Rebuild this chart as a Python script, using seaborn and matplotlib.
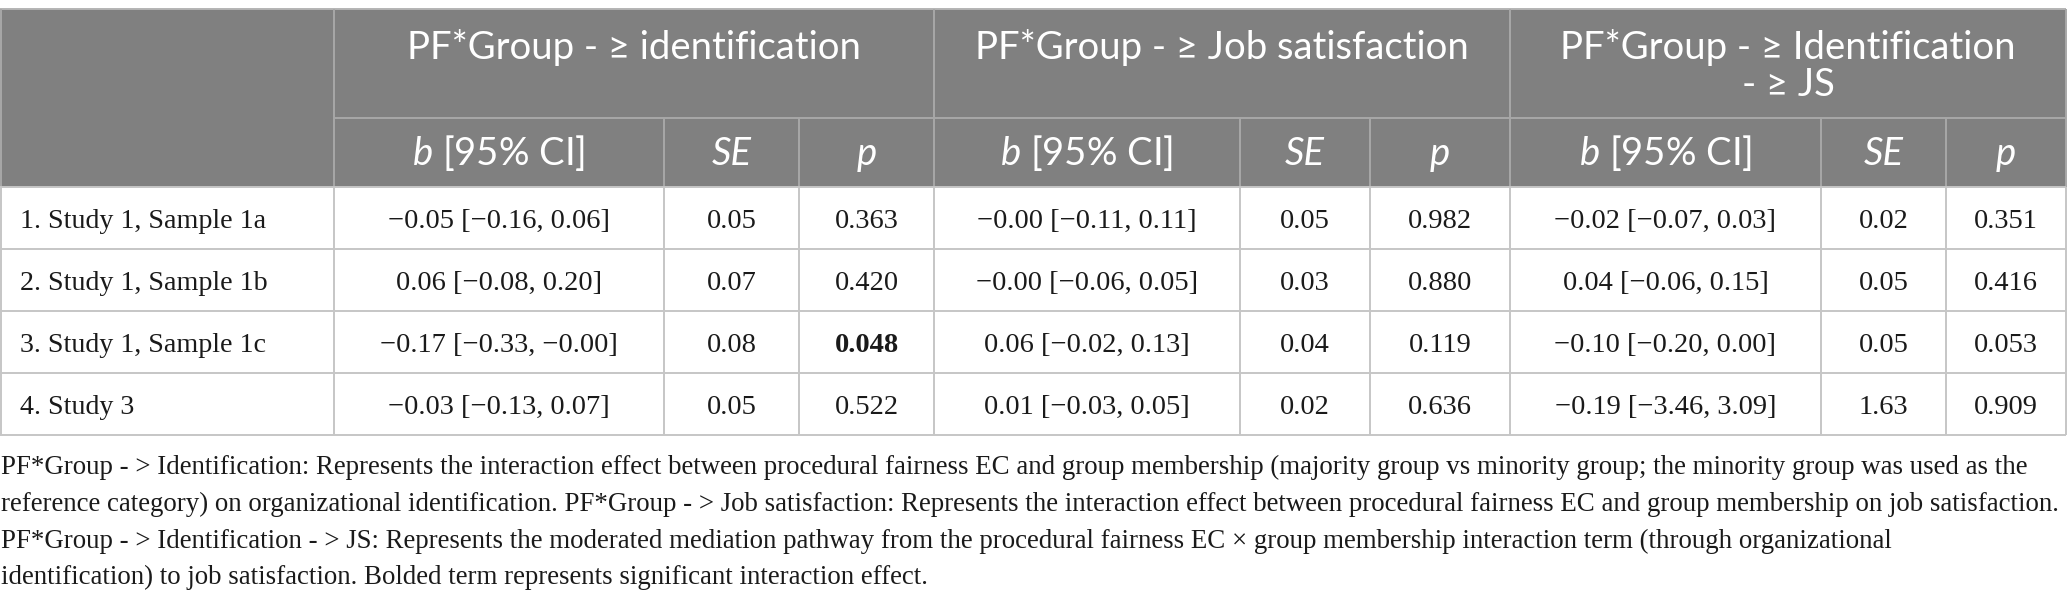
import matplotlib
matplotlib.use("Agg")
import matplotlib.pyplot as plt
from matplotlib.patches import Rectangle
import seaborn as sns

# Table data
row_labels = ["1. Study 1, Sample 1a", "2. Study 1, Sample 1b",
              "3. Study 1, Sample 1c", "4. Study 3"]

# PF*Group -> identification
ident_b = [-0.05, 0.06, -0.17, -0.03]
ident_lo = [-0.16, -0.08, -0.33, -0.13]
ident_hi = [0.06, 0.20, -0.0, 0.07]
ident_se = [0.05, 0.07, 0.08, 0.05]
ident_p = [0.363, 0.420, 0.048, 0.522]

# PF*Group -> Job satisfaction
js_b = [-0.0, -0.0, 0.06, 0.01]
js_lo = [-0.11, -0.06, -0.02, -0.03]
js_hi = [0.11, 0.05, 0.13, 0.05]
js_se = [0.05, 0.03, 0.04, 0.02]
js_p = [0.982, 0.880, 0.119, 0.636]

# PF*Group -> Identification -> JS
med_b = [-0.02, 0.04, -0.10, -0.19]
med_lo = [-0.07, -0.06, -0.20, -3.46]
med_hi = [0.03, 0.15, 0.00, 3.09]
med_se = [0.02, 0.05, 0.05, 1.63]
med_p = [0.351, 0.416, 0.053, 0.909]

group_titles = ["PF*Group - \u2265 identification",
                "PF*Group - \u2265 Job satisfaction",
                "PF*Group - \u2265 Identification\n- \u2265 JS"]

footnote = [
    "PF*Group - > Identification: Represents the interaction effect between procedural fairness EC and group membership (majority group vs minority group; the minority group was used as the",
    "reference category) on organizational identification. PF*Group - > Job satisfaction: Represents the interaction effect between procedural fairness EC and group membership on job satisfaction.",
    "PF*Group - > Identification - > JS: Represents the moderated mediation pathway from the procedural fairness EC \u00d7 group membership interaction term (through organizational",
    "identification) to job satisfaction. Bolded term represents significant interaction effect.",
]

# layout (pixels)
W, H = 2067, 604
col_x = [0, 334, 664, 799, 934, 1240, 1370, 1510, 1821, 1946, 2066]
top, head_mid, head_bot = 9, 118, 187
row_h = 62
header_fill = "#808080"
head_line = "#a8a8a8"
body_line = "#c6c6c6"
txt = "#1a1a1a"

sns.set_theme(style="white")
plt.rcParams["mathtext.fontset"] = "custom"
plt.rcParams["mathtext.it"] = "Lato:italic"
plt.rcParams["mathtext.rm"] = "Lato"
sans = ["Lato", "DejaVu Sans"]
serif = ["Liberation Serif", "DejaVu Serif"]
head_fs = 27.5
num_fs = 20.5
lab_fs = 20.2
foot_fs = 19.4


def fmt(v, d=2):
    return f"{v:.{d}f}".replace("-", "\u2212")


fig = plt.figure(figsize=(W / 100, H / 100), dpi=100)
ax = fig.add_axes([0, 0, 1, 1])
ax.set_xlim(0, W)
ax.set_ylim(H, 0)
ax.axis("off")

n = len(row_labels)
bottom = head_bot + n * row_h

# header background
ax.add_patch(Rectangle((col_x[0], top), col_x[-1] - col_x[0], head_bot - top,
                       facecolor=header_fill, edgecolor="none"))

lw = 1.4
# header lines
ax.hlines(top, col_x[0], col_x[-1], color="#b4b4b4", lw=lw)
ax.hlines(head_mid, col_x[1], col_x[-1], color=head_line, lw=lw)
ax.vlines([col_x[1], col_x[4], col_x[7]], top, head_bot, color=head_line, lw=lw)
ax.vlines([col_x[2], col_x[3], col_x[5], col_x[6], col_x[8], col_x[9]],
          head_mid, head_bot, color=head_line, lw=lw)
ax.vlines([col_x[0] + 0.7, col_x[-1]], top, head_bot, color=head_line, lw=lw)

# body lines
for i in range(n + 1):
    ax.hlines(head_bot + i * row_h, col_x[0], col_x[-1], color=body_line, lw=lw)
ax.vlines(col_x[1:-1], head_bot, bottom, color=body_line, lw=lw)
ax.vlines([col_x[0] + 0.7, col_x[-1]], head_bot, bottom, color=body_line, lw=lw)

# group titles
starts = [1, 4, 7]
for g, title in enumerate(group_titles):
    cx = (col_x[starts[g]] + col_x[starts[g] + 3]) / 2
    for k, line in enumerate(title.split("\n")):
        ax.text(cx, 59 + k * 37, line, ha="center", va="baseline",
                family=sans, fontsize=head_fs, color="white")

# sub headers
sub_y = 165
for g in range(3):
    c = starts[g]
    ax.text((col_x[c] + col_x[c + 1]) / 2, sub_y, r"$b$ [95% CI]", ha="center",
            va="baseline", family=sans, fontsize=head_fs, color="white")
    ax.text((col_x[c + 1] + col_x[c + 2]) / 2, sub_y, "SE", ha="center",
            va="baseline", family=sans, fontsize=head_fs, color="white", style="italic")
    ax.text((col_x[c + 2] + col_x[c + 3]) / 2, sub_y, "p", ha="center",
            va="baseline", family=sans, fontsize=head_fs, color="white", style="italic")

# body cells
groups = [(ident_b, ident_lo, ident_hi, ident_se, ident_p),
          (js_b, js_lo, js_hi, js_se, js_p),
          (med_b, med_lo, med_hi, med_se, med_p)]
for i, lab in enumerate(row_labels):
    base = head_bot + i * row_h + 41
    ax.text(col_x[0] + 20, base, lab, ha="left", va="baseline",
            family=serif, fontsize=lab_fs, color=txt)
    for g, (b, lo, hi, se, p) in enumerate(groups):
        c = starts[g]
        cells = [f"{fmt(b[i])} [{fmt(lo[i])}, {fmt(hi[i])}]", fmt(se[i]), fmt(p[i], 3)]
        for k, s in enumerate(cells):
            bold = (k == 2 and p[i] < 0.05)
            ax.text((col_x[c + k] + col_x[c + k + 1]) / 2, base, s, ha="center",
                    va="baseline", family=serif, fontsize=num_fs, color=txt,
                    weight="bold" if bold else "normal")

# footnote
for k, line in enumerate(footnote):
    ax.text(1, 474 + k * 36.8, line, ha="left", va="baseline",
            family=serif, fontsize=foot_fs, color=txt)

fig.savefig("out.png", dpi=100)
